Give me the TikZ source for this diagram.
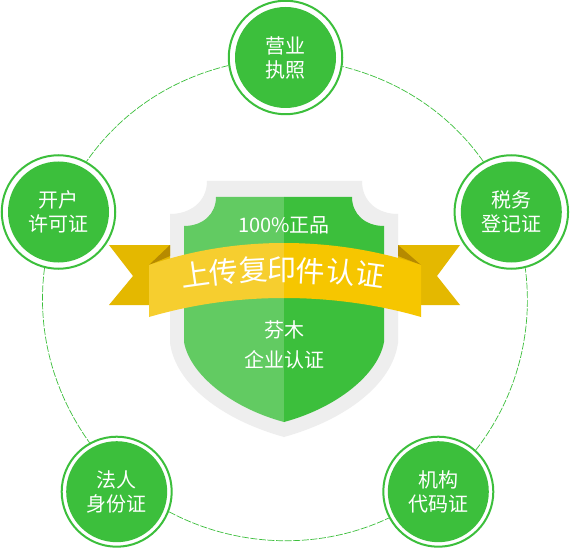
\documentclass[tikz,border=0pt]{standalone}
\usepackage{fontspec}
\setmainfont{Noto Sans CJK SC}
\definecolor{grn}{HTML}{3CBF3C}
\definecolor{lgrn}{HTML}{62CB62}
\definecolor{shieldgrey}{HTML}{EEEEEE}
\definecolor{rib}{HTML}{F6C600}
\definecolor{lrib}{HTML}{F6CE2F}
\definecolor{tail}{HTML}{E4B800}
\definecolor{fold}{HTML}{B68A00}
\tikzset{
  badge/.style={circle,fill=grn,text=white,minimum size=101pt,inner sep=0pt,align=center,
    font=\fontsize{20}{24}\selectfont},
  ring/.style={circle,draw=grn,line width=2pt,fill=white,inner sep=0pt},
  bigring/.style={ring,minimum size=113.5pt},
  smallring/.style={ring,minimum size=110pt},
  linkarc/.style={draw=grn,line width=.7pt,dash pattern=on 7pt off 1.6pt,looseness=.89},
  shieldtxt/.style={text=white,font=\fontsize{20}{24}\selectfont},
  ribchar/.style={text=white,font=\fontsize{29}{29}\selectfont,inner sep=0pt}
}
\begin{document}
\begin{tikzpicture}[x=1pt,y=-1pt]
\useasboundingbox (0,0) rectangle (570,548);
\fill[white] (0,0) rectangle (570,548);
% ring nodes
\node[bigring] (top) at (285.5,57.5) {};
\node[bigring] (left) at (58.5,212) {};
\node[bigring] (right) at (511.3,212) {};
\node[smallring] (bl) at (116.7,491.7) {};
\node[smallring] (br) at (438.3,491.7) {};
% links
\draw[linkarc] (top.188.5) to[out=193.7,in=55.1] (left.61);
\draw[linkarc] (left.256) to[out=262.5,in=125.6] (bl.119.6);
\draw[linkarc] (bl.339) to[out=332,in=205.3] (br.208.4);
\draw[linkarc] (br.48.5) to[out=52.2,in=277.5] (right.284);
\draw[linkarc] (right.119.4) to[out=125.2,in=346] (top.351.6);
% badges
\node[badge] (topb) at (top) {营业\\执照};
\node[badge] (leftb) at (left) {开户\\许可证};
\node[badge] (rightb) at (right) {税务\\登记证};
\node[badge] (blb) at (bl) {法人\\身份证};
\node[badge] (brb) at (br) {机构\\代码证};
% shield
\fill[shieldgrey] (207,181) -- (362,181) .. controls (362,202) and (378,214) .. (398,214)
  -- (398,343) .. controls (392,385) and (345,420) .. (284,437)
  .. controls (223,420) and (176,385) .. (170,343) -- (170,214)
  .. controls (190,214) and (207,202) .. (207,181) -- cycle;
\fill[lgrn] (284,197) -- (216,197) .. controls (216,214) and (203,226) .. (184,226)
  -- (184,342) .. controls (190,375) and (232,408) .. (284,422) -- cycle;
\fill[grn] (284,197) -- (352,197) .. controls (352,214) and (365,226) .. (384,226)
  -- (384,342) .. controls (378,375) and (336,408) .. (284,422) -- cycle;
% ribbon
\fill[tail] (109,245) -- (170,245) -- (170,305) -- (109,305) -- (133,276) -- cycle;
\fill[tail] (460,245) -- (398,245) -- (398,305) -- (460,305) -- (437,276) -- cycle;
\fill[fold] (170,245) -- (170,256) -- (149,265) -- cycle;
\fill[fold] (398,245) -- (398,256) -- (421,265) -- cycle;
\fill[lrib] (284,243) .. controls (235,243) and (190,251) .. (149,265) -- (149,317)
  .. controls (190,305) and (235,298) .. (284,298) -- cycle;
\fill[rib] (284,243) .. controls (333,243) and (380,251) .. (421,265) -- (421,317)
  .. controls (380,305) and (333,298) .. (284,298) -- cycle;
% text
\node[shieldtxt] (s1) at (284,225) {100\%正品};
\node[shieldtxt] (s2) at (284,330) {芬木};
\node[shieldtxt] (s3) at (284,360) {企业认证};
\node[ribchar,rotate=8] (c1) at (195,274) {上};
\node[ribchar,rotate=6] (c2) at (224,272) {传};
\node[ribchar,rotate=3] (c3) at (253,270) {复};
\node[ribchar,rotate=0] (c4) at (282,270) {印};
\node[ribchar,rotate=-3] (c5) at (311,271) {件};
\node[ribchar,rotate=-6] (c6) at (341,272) {认};
\node[ribchar,rotate=-8] (c7) at (370,275) {证};
\end{tikzpicture}
\end{document}
